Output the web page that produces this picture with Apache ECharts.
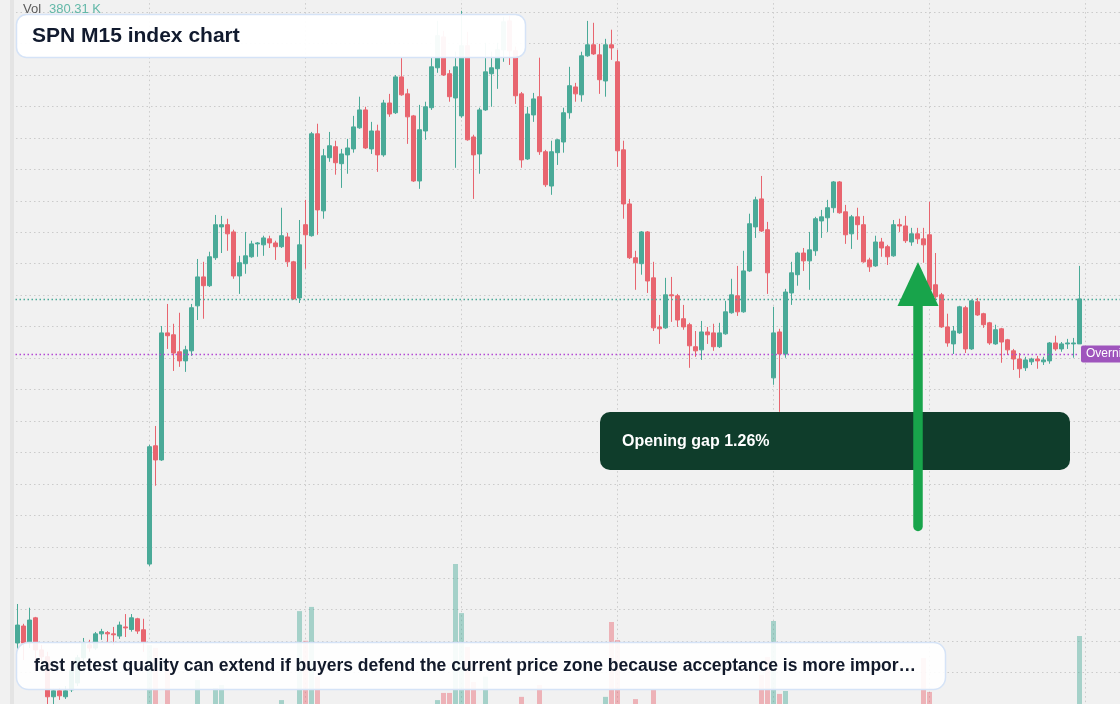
<!DOCTYPE html>
<html>
<head>
<meta charset="utf-8">
<title>SPN M15 index chart</title>
<script src="https://cdn.jsdelivr.net/npm/echarts/dist/echarts.min.js"></script>
<style>
html, body { margin: 0; padding: 0; background: #f1f1f1; }
#chart { width: 1120px; height: 704px; }
</style>
</head>
<body>
<div id="chart"></div>
<script>
// candles: [open, close, low, high]
var candles = [
 [5619.4, 5625.1, 5617.2, 5631.8], [5624.8, 5619.4, 5614.0, 5625.5], [5619.4, 5626.7, 5617.8, 5630.6],
 [5627.4, 5617.2, 5610.5, 5627.7], [5617.2, 5615.0, 5610.8, 5618.8], [5615.0, 5602.3, 5600.0, 5616.6],
 [5602.3, 5604.2, 5599.6, 5604.8], [5604.2, 5602.6, 5601.3, 5605.1], [5602.3, 5604.2, 5601.6, 5605.7],
 [5604.5, 5610.8, 5603.8, 5612.4], [5606.7, 5614.7, 5605.7, 5615.6], [5614.7, 5619.4, 5613.4, 5621.0],
 [5618.8, 5617.8, 5616.6, 5620.4], [5617.8, 5622.3, 5617.2, 5622.9], [5622.3, 5623.0, 5620.4, 5623.9],
 [5622.7, 5622.3, 5619.7, 5623.2], [5622.3, 5622.0, 5618.8, 5624.5], [5621.6, 5625.1, 5620.7, 5626.2],
 [5624.5, 5624.2, 5621.3, 5628.6], [5623.7, 5627.4, 5623.0, 5628.6], [5627.1, 5623.2, 5622.3, 5627.4],
 [5623.6, 5619.7, 5616.6, 5627.1], [5644.5, 5681.8, 5643.9, 5682.4], [5682.1, 5677.6, 5669.4, 5688.4],
 [5677.6, 5718.0, 5677.3, 5720.2], [5718.0, 5717.1, 5712.9, 5727.2], [5717.4, 5711.6, 5705.9, 5720.9],
 [5712.0, 5709.1, 5707.2, 5724.4], [5709.1, 5712.6, 5705.6, 5713.9], [5712.3, 5726.0, 5710.7, 5727.2],
 [5726.6, 5735.8, 5722.1, 5741.5], [5735.8, 5733.0, 5722.5, 5740.6], [5733.0, 5742.2, 5732.6, 5743.8],
 [5741.9, 5752.4, 5741.2, 5755.5], [5751.7, 5752.4, 5743.4, 5755.2], [5752.4, 5749.5, 5744.1, 5754.3],
 [5750.1, 5736.1, 5735.2, 5750.8], [5736.1, 5740.3, 5730.4, 5742.5], [5740.0, 5742.5, 5736.8, 5750.1],
 [5742.2, 5746.3, 5741.9, 5747.3], [5746.3, 5746.6, 5742.2, 5746.9], [5746.0, 5748.2, 5742.5, 5748.9],
 [5747.9, 5746.6, 5745.0, 5748.9], [5746.6, 5745.4, 5741.2, 5747.3], [5745.4, 5748.9, 5745.0, 5757.8],
 [5748.5, 5740.6, 5739.0, 5749.8], [5740.6, 5728.8, 5728.5, 5740.9], [5729.1, 5746.0, 5727.5, 5753.9],
 [5752.4, 5749.2, 5738.4, 5760.3], [5748.9, 5781.3, 5748.6, 5781.9], [5781.3, 5757.1, 5749.2, 5784.5],
 [5756.8, 5774.3, 5754.3, 5776.5], [5773.7, 5777.5, 5772.4, 5781.9], [5777.2, 5772.1, 5768.3, 5779.1],
 [5771.8, 5774.9, 5764.1, 5776.5], [5774.6, 5776.8, 5768.6, 5779.7], [5776.5, 5783.5, 5775.3, 5787.0],
 [5783.2, 5788.9, 5782.9, 5793.1], [5788.9, 5776.8, 5776.5, 5789.9], [5776.5, 5782.2, 5774.9, 5785.1],
 [5782.2, 5774.6, 5769.2, 5784.2], [5774.6, 5791.1, 5774.0, 5792.1], [5791.1, 5787.6, 5786.7, 5794.0],
 [5788.0, 5799.4, 5787.6, 5800.0], [5799.4, 5793.7, 5793.4, 5805.5], [5794.0, 5786.7, 5778.1, 5795.6],
 [5787.0, 5766.3, 5766.0, 5787.3], [5766.3, 5782.6, 5763.8, 5790.5], [5782.2, 5789.9, 5779.4, 5791.5],
 [5789.6, 5802.6, 5788.9, 5805.5], [5802.3, 5812.5, 5800.7, 5817.2], [5812.1, 5800.0, 5799.7, 5814.0],
 [5800.4, 5793.1, 5791.5, 5801.6], [5792.7, 5802.6, 5770.5, 5807.4], [5787.0, 5809.3, 5786.4, 5820.4],
 [5809.3, 5779.4, 5779.1, 5813.7], [5780.3, 5774.6, 5760.6, 5781.0], [5774.9, 5788.9, 5768.6, 5789.6],
 [5788.9, 5801.0, 5788.6, 5810.2], [5800.4, 5802.3, 5789.9, 5807.4], [5802.0, 5808.0, 5795.6, 5810.2],
 [5808.0, 5816.9, 5804.2, 5818.5], [5817.2, 5807.7, 5803.2, 5818.8], [5807.7, 5793.4, 5790.8, 5809.0],
 [5794.0, 5773.0, 5770.5, 5794.6], [5773.3, 5787.6, 5773.0, 5789.9], [5787.3, 5792.4, 5785.1, 5794.3],
 [5793.1, 5775.6, 5774.6, 5805.5], [5775.6, 5765.1, 5764.4, 5776.2], [5764.7, 5775.6, 5761.9, 5779.1],
 [5775.3, 5779.4, 5771.4, 5779.7], [5778.7, 5788.0, 5775.3, 5789.6], [5788.0, 5796.6, 5786.1, 5802.6],
 [5796.2, 5794.0, 5791.5, 5797.5], [5793.7, 5806.1, 5791.5, 5807.4], [5806.1, 5809.6, 5805.8, 5817.2],
 [5809.6, 5806.7, 5806.4, 5816.6], [5806.4, 5798.5, 5794.0, 5809.9], [5798.1, 5809.6, 5793.1, 5811.5],
 [5809.6, 5808.6, 5804.8, 5814.4], [5804.2, 5775.9, 5770.8, 5808.0], [5776.2, 5759.0, 5754.3, 5779.1],
 [5759.0, 5741.9, 5741.5, 5760.6], [5741.9, 5740.3, 5731.7, 5744.1], [5740.0, 5750.1, 5736.5, 5750.4],
 [5750.1, 5734.5, 5730.7, 5750.4], [5735.5, 5719.6, 5718.6, 5740.6], [5719.9, 5719.3, 5714.5, 5723.7],
 [5719.6, 5730.1, 5719.3, 5735.5], [5730.1, 5729.8, 5721.5, 5735.8], [5729.8, 5722.1, 5719.9, 5730.4],
 [5722.5, 5719.9, 5719.0, 5726.9], [5720.6, 5713.9, 5706.9, 5721.2], [5713.6, 5712.3, 5710.4, 5718.6],
 [5712.6, 5718.3, 5709.4, 5721.8], [5718.3, 5717.4, 5714.5, 5719.9], [5718.0, 5713.6, 5712.3, 5720.9],
 [5713.6, 5718.0, 5713.2, 5721.2], [5717.7, 5724.7, 5717.4, 5728.2], [5724.4, 5730.1, 5724.1, 5735.2],
 [5729.8, 5724.7, 5723.4, 5739.3], [5724.7, 5737.7, 5724.4, 5744.1], [5737.7, 5752.7, 5737.4, 5755.9],
 [5751.7, 5760.3, 5748.2, 5761.3], [5760.6, 5750.4, 5750.1, 5767.9], [5750.8, 5737.1, 5730.4, 5753.3],
 [5703.7, 5718.0, 5701.5, 5726.3], [5718.3, 5711.3, 5692.9, 5719.3], [5711.3, 5731.0, 5710.1, 5732.0],
 [5730.7, 5737.1, 5726.9, 5740.6], [5736.5, 5743.4, 5733.0, 5743.8], [5743.4, 5740.9, 5737.7, 5745.0],
 [5740.9, 5744.4, 5731.7, 5750.1], [5744.1, 5754.3, 5742.5, 5754.9], [5753.6, 5754.9, 5748.2, 5757.1],
 [5754.6, 5757.8, 5750.1, 5760.3], [5757.8, 5766.0, 5756.2, 5766.3], [5766.0, 5756.2, 5755.9, 5766.3],
 [5756.5, 5749.2, 5746.3, 5758.7], [5749.5, 5754.9, 5744.7, 5755.5], [5754.9, 5752.4, 5747.6, 5757.8],
 [5752.4, 5740.6, 5740.3, 5755.2], [5741.2, 5739.0, 5737.4, 5741.9], [5739.3, 5746.9, 5739.0, 5748.9],
 [5746.9, 5745.0, 5742.2, 5748.2], [5745.4, 5742.2, 5739.6, 5746.0], [5742.5, 5752.4, 5742.2, 5753.9],
 [5752.4, 5752.0, 5750.1, 5754.3], [5752.0, 5747.3, 5746.6, 5755.2], [5746.9, 5749.5, 5745.7, 5751.4],
 [5749.5, 5747.9, 5746.3, 5751.4], [5747.9, 5746.0, 5740.3, 5751.4], [5749.2, 5731.7, 5731.4, 5759.7],
 [5733.3, 5729.5, 5728.5, 5743.4], [5730.1, 5719.9, 5719.6, 5730.7], [5719.9, 5714.8, 5713.6, 5724.1],
 [5714.5, 5718.6, 5711.3, 5720.2], [5718.0, 5726.3, 5717.7, 5726.6], [5726.0, 5712.9, 5711.6, 5726.6],
 [5712.9, 5728.2, 5712.6, 5728.5], [5727.9, 5723.7, 5723.4, 5729.1], [5724.1, 5720.6, 5719.6, 5724.4],
 [5721.2, 5714.8, 5714.2, 5721.5], [5714.5, 5719.0, 5714.2, 5720.6], [5719.3, 5715.1, 5708.5, 5719.6],
 [5715.8, 5712.6, 5711.0, 5716.1], [5712.3, 5709.7, 5706.2, 5712.9], [5709.7, 5706.6, 5703.7, 5711.6],
 [5706.9, 5709.4, 5705.9, 5710.4], [5708.8, 5709.7, 5707.8, 5710.1], [5709.7, 5709.1, 5706.6, 5710.7],
 [5708.8, 5709.4, 5707.8, 5710.4], [5709.1, 5714.8, 5708.2, 5715.1], [5714.8, 5712.9, 5712.3, 5717.1],
 [5712.9, 5714.5, 5712.0, 5715.1], [5714.5, 5714.8, 5712.9, 5716.1], [5714.5, 5714.8, 5710.1, 5716.4],
 [5714.5, 5728.8, 5714.5, 5739.3]
];
// volume, thousands
var volumes = [
 62, 48, 55, 71, 40, 88, 76, 52, 45, 38,
 60, 47, 33, 41, 29, 35, 26, 44, 31, 37,
 42, 58, 344, 332, 95, 283, 78, 64, 50, 85,
 202, 72, 90, 170, 182, 66, 93, 57, 61, 44,
 30, 39, 28, 35, 121, 74, 96, 481, 361, 498,
 216, 88, 63, 57, 70, 49, 82, 91, 77, 54,
 68, 94, 59, 86, 73, 80, 97, 89, 66, 92,
 121, 150, 150, 672, 473, 336, 194, 90, 216, 71,
 64, 83, 78, 87, 134, 92, 60, 182, 95, 88,
 52, 67, 79, 45, 84, 69, 58, 76, 134, 437,
 364, 98, 96, 125, 81, 93, 162, 57, 74, 48,
 62, 50, 86, 43, 59, 36, 47, 41, 55, 63,
 72, 80, 94, 85, 223, 295, 441, 146, 158, 89,
 76, 58, 70, 84, 46, 61, 92, 88, 71, 54,
 49, 83, 42, 65, 38, 44, 78, 33, 52, 40,
 36, 291, 154, 96, 89, 73, 60, 68, 81, 77,
 54, 47, 63, 50, 66, 45, 58, 71, 39, 28,
 34, 26, 62, 43, 31, 25, 37, 380.31
];
var overnightLevel = 5711.3;
var gapText = 'Opening gap 1.26%';
var noteText = 'fast retest quality can extend if buyers defend the current price zone because acceptance is more impor\u2026';

// time slots (one empty slot before the first bar, some after the last)
var times = [];
for (var i = 0; i < 191; i++) {
	var m = 8 * 60 + (i - 1) * 15;
	var hh = Math.floor(((m % 1440) + 1440) % 1440 / 60), mm = ((m % 60) + 60) % 60;
	times.push((hh < 10 ? '0' : '') + hh + ':' + (mm < 10 ? '0' : '') + mm);
}

var up = '#4aaa98', down = '#e8656f';
var gridLine = { color: '#cbcbcb', width: 1, type: [1.5, 3] };

var candleData = ['-'].concat(candles);
var volData = ['-'];
for (var j = 0; j < candles.length; j++) {
	volData.push({
		value: volumes[j],
		itemStyle: { color: candles[j][1] >= candles[j][0] ? 'rgba(74,170,152,0.45)' : 'rgba(232,101,112,0.45)' }
	});
}
var lastClose = candles[candles.length - 1][1];
var lastVol = volumes[volumes.length - 1];

var chart = echarts.init(document.getElementById('chart'));
var option = {
	animation: false,
	backgroundColor: '#f1f1f1',
	grid: [
		{ left: 11.5, width: 1140, top: -19.35, height: 723.35, outerBoundsMode: 'none', containLabel: false },
		{ left: 11.5, width: 1140, top: 544, height: 186, outerBoundsMode: 'none', containLabel: false }
	],
	xAxis: [
		{
			type: 'category', data: times, boundaryGap: false, gridIndex: 0,
			axisLine: { show: false }, axisTick: { show: false }, axisLabel: { show: false },
			splitLine: {
				show: true,
				interval: function (index) { return index >= 23 && (index - 23) % 26 === 0; },
				lineStyle: gridLine
			}
		},
		{
			type: 'category', data: times, boundaryGap: false, gridIndex: 1,
			axisLine: { show: false }, axisTick: { show: false }, axisLabel: { show: false },
			splitLine: { show: false }
		}
	],
	yAxis: [
		{
			type: 'value', gridIndex: 0, position: 'right', min: 5600, max: 5830, interval: 10,
			axisLine: { show: false }, axisTick: { show: false }, axisLabel: { show: false },
			splitLine: { show: true, lineStyle: gridLine }
		},
		{
			type: 'value', gridIndex: 1, min: 0, max: 752.5, show: false,
			splitLine: { show: false }
		}
	],
	series: [
		{
			type: 'bar', name: 'Vol', xAxisIndex: 1, yAxisIndex: 1,
			data: volData, barWidth: 5, z: 1, silent: true
		},
		{
			type: 'candlestick', name: 'SPN', xAxisIndex: 0, yAxisIndex: 0,
			data: candleData, barWidth: 4, z: 3,
			itemStyle: { color: up, color0: down, borderColor: up, borderColor0: down, borderWidth: 1 },
			markLine: {
				silent: true, symbol: ['none', 'none'], animation: false,
				data: [
					{ yAxis: lastClose, label: { show: false }, lineStyle: { color: up, width: 1.3, type: [1.5, 2.5] } },
					[
						{ coord: [0, overnightLevel] },
						{
							coord: [candles.length, overnightLevel],
							label: {
								show: true, position: 'end', distance: 1.5, formatter: 'Overnight',
								color: '#fff', fontSize: 12, fontFamily: 'Liberation Sans, Arial, sans-serif',
								backgroundColor: '#9f55bd', padding: [2, 5], lineHeight: 13, borderRadius: 2
							}
						}
					]
				],
				lineStyle: { color: '#b449d4', width: 1.3, type: [1.5, 2.5] }
			}
		}
	],
	graphic: [
		{ type: 'rect', z: 50, shape: { x: 10, y: 0, width: 4, height: 704 }, style: { fill: '#e4e4e4' } },
		{ type: 'text', z: 60, style: { x: 23, y: 9, text: 'Vol', fill: '#5a5a5a', font: '13px "Liberation Sans", Arial, sans-serif', verticalAlign: 'middle' } },
		{ type: 'text', z: 60, style: { x: 49, y: 9, text: lastVol.toFixed(2) + ' K', fill: '#62b8a8', font: '13px "Liberation Sans", Arial, sans-serif', verticalAlign: 'middle' } },
		{ type: 'rect', z: 60, shape: { x: 16.5, y: 14.5, width: 509, height: 43, r: 10 }, style: { fill: 'rgba(255,255,255,0.95)', stroke: '#d5e3f7', lineWidth: 1.5 } },
		{ type: 'text', z: 61, style: { x: 32, y: 36, text: 'SPN M15 index chart', fill: '#111a2e', font: 'bold 21px "Liberation Sans", Arial, sans-serif', verticalAlign: 'middle' } },
		{ type: 'rect', z: 60, shape: { x: 600, y: 412, width: 470, height: 58, r: 10 }, style: { fill: '#0f3d2b' } },
		{ type: 'text', z: 61, style: { x: 622, y: 442, text: gapText, fill: '#ffffff', font: 'bold 16px "Liberation Sans", Arial, sans-serif', verticalAlign: 'middle' } },
		{ type: 'line', z: 62, shape: { x1: 918, y1: 526.5, x2: 918, y2: 300 }, style: { stroke: '#18a44b', lineWidth: 9.5, lineCap: 'round' } },
		{ type: 'polygon', z: 62, shape: { points: [[918, 262], [938.5, 306], [897.5, 306]] }, style: { fill: '#18a44b' } },
		{ type: 'rect', z: 60, shape: { x: 16.5, y: 642.5, width: 929, height: 47, r: 12 }, style: { fill: 'rgba(255,255,255,0.9)', stroke: '#d5e3f7', lineWidth: 1.5 } },
		{ type: 'text', z: 61, style: { x: 34, y: 666, text: noteText, fill: '#121a2b', font: 'bold 17.5px "Liberation Sans", Arial, sans-serif', verticalAlign: 'middle' } }
	]
};
chart.setOption(option);
</script>
</body>
</html>
